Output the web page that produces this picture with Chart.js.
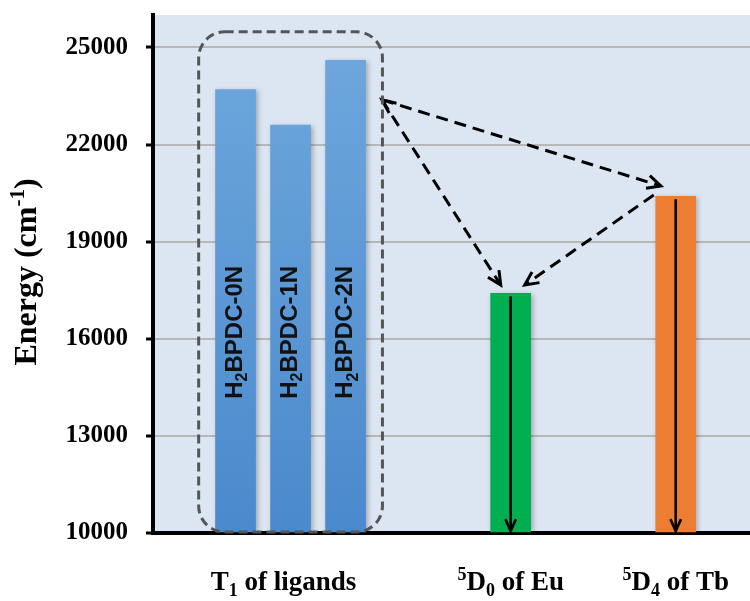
<!DOCTYPE html>
<html>
<head>
<meta charset="utf-8">
<script src="https://cdn.jsdelivr.net/npm/chart.js@4.4.1/dist/chart.umd.min.js"></script>
<style>
  html, body { margin: 0; padding: 0; background: #ffffff; }
  canvas { display: block; }
</style>
</head>
<body>
<canvas id="energyChart" width="750" height="601"></canvas>
<script>
// Triplet levels of the ligands and emitting levels of Eu3+ / Tb3+ (cm-1)
const ligandNames = ['H_{2}BPDC-0N', 'H_{2}BPDC-1N', 'H_{2}BPDC-2N'];
const ligandTriplets = [23700, 22600, 24600];
const lanthanideNames = ['Eu', 'Tb'];
const lanthanideLevels = [17400, 20400];
const groupLabels = ['T_{1} of ligands', '^{5}D_{0} of Eu', '^{5}D_{4} of Tb'];
const energyTicks = [10000, 13000, 16000, 19000, 22000, 25000];
const axisTitle = 'Energy (cm^{-1})';

// Layout along the hidden x axis (slot units) and value range
const ligandSlots = [0, 1, 2];
const lanthanideSlots = [5, 8];
const groupSlots = [0.87, 5, 8];
const yMin = 10000, yMax = 26000;
const xMin = -1.5, xMax = 9.35;

const SERIF = '"Liberation Serif", "Times New Roman", serif';
const SANS = '"Liberation Sans", Arial, sans-serif';
const lanthanideColors = ['#00b050', '#ed7d31'];

// Small rich-text helper: _{..} subscript, ^{..} superscript
function parseRich(str) {
  const segs = [];
  const re = /([_^])\{([^}]*)\}|([^_^]+)/g;
  let m;
  while ((m = re.exec(str))) {
    if (m[3] !== undefined) segs.push({ t: m[3], k: 0 });
    else segs.push({ t: m[2], k: m[1] === '_' ? 1 : -1 });
  }
  return segs;
}
function drawRich(ctx, str, x, y, size, family, weight, align) {
  const segs = parseRich(str);
  const small = Math.round(size * 0.65);
  const fontFor = k => `${weight} ${k ? small : size}px ${family}`;
  let total = 0;
  segs.forEach(s => { ctx.font = fontFor(s.k); s.w = ctx.measureText(s.t).width; total += s.w; });
  let cx = align === 'center' ? x - total / 2 : (align === 'right' ? x - total : x);
  ctx.textAlign = 'left';
  ctx.textBaseline = 'alphabetic';
  segs.forEach(s => {
    ctx.font = fontFor(s.k);
    const dy = s.k === 1 ? size * 0.22 : (s.k === -1 ? -size * 0.38 : 0);
    ctx.fillText(s.t, cx, y + dy);
    cx += s.w;
  });
}

function arrowHead(ctx, tx, ty, angle, len, spread) {
  ctx.save();
  ctx.setLineDash([]);
  ctx.beginPath();
  ctx.moveTo(tx - len * Math.cos(angle - spread), ty - len * Math.sin(angle - spread));
  ctx.lineTo(tx, ty);
  ctx.lineTo(tx - len * Math.cos(angle + spread), ty - len * Math.sin(angle + spread));
  ctx.stroke();
  ctx.restore();
}

// Plot-area background
const plotBackground = {
  id: 'plotBackground',
  beforeDraw(chart) {
    const { ctx, chartArea: a } = chart;
    ctx.save();
    ctx.fillStyle = '#dce6f2';
    ctx.fillRect(a.left, a.top, a.right - a.left, a.bottom - a.top);
    ctx.restore();
  }
};

// Soft drop shadow under the bars
const barShadow = {
  id: 'barShadow',
  beforeDatasetDraw(chart) {
    const ctx = chart.ctx;
    ctx.save();
    ctx.shadowColor = 'rgba(0,0,0,0.28)';
    ctx.shadowBlur = 5;
    ctx.shadowOffsetX = 2;
    ctx.shadowOffsetY = 1;
  },
  afterDatasetDraw(chart) {
    chart.ctx.restore();
  }
};

// Labels, energy-transfer arrows, ligand box, axis titles
const annotations = {
  id: 'annotations',
  afterDatasetsDraw(chart) {
    const { ctx, chartArea: a } = chart;
    const xs = chart.scales.x, ys = chart.scales.y;
    const px = v => xs.getPixelForValue(v);
    const py = v => ys.getPixelForValue(v);

    // rotated ligand names inside the blue bars
    ctx.save();
    ctx.fillStyle = '#111111';
    ligandNames.forEach((name, i) => {
      const size = 24;
      ctx.save();
      ctx.translate(px(ligandSlots[i]) - 2 + size * 0.36, py(16200));
      ctx.rotate(-Math.PI / 2);
      drawRich(ctx, name, 0, 0, size, SANS, 'bold', 'center');
      ctx.restore();
    });
    ctx.restore();

    // vertical decay arrows in the lanthanide bars
    ctx.save();
    ctx.strokeStyle = '#000';
    ctx.lineWidth = 2.6;
    lanthanideSlots.forEach((s, i) => {
      const x = px(s);
      const top = py(lanthanideLevels[i]) + 3;
      const tip = a.bottom - 2;
      ctx.beginPath();
      ctx.moveTo(x, top);
      ctx.lineTo(x, tip - 2);
      ctx.stroke();
      arrowHead(ctx, x, tip, Math.PI / 2, 13, 0.42);
    });
    ctx.restore();

    // dashed energy-transfer arrows
    const eu = lanthanideLevels[0], tb = lanthanideLevels[1];
    const euX = lanthanideSlots[0], tbX = lanthanideSlots[1];
    const hub = [px(2.66), py(23380)];
    const euLeft = [px(euX - 0.18), py(eu + 260)];
    const euRight = [px(euX + 0.255), py(eu + 260)];
    const tbTip = [px(tbX - 0.27), py(tb + 320)];
    const tbStart = [px(tbX - 0.4), py(tb + 40)];
    const lines = [[hub, euLeft], [hub, tbTip], [tbStart, euRight]];
    ctx.save();
    ctx.strokeStyle = '#000';
    ctx.lineWidth = 3;
    ctx.setLineDash([12, 7]);
    lines.forEach(([p, q]) => {
      ctx.beginPath();
      ctx.moveTo(p[0], p[1]);
      ctx.lineTo(q[0], q[1]);
      ctx.stroke();
    });
    lines.forEach(([p, q]) => {
      arrowHead(ctx, q[0], q[1], Math.atan2(q[1] - p[1], q[0] - p[0]), 15, 0.45);
    });
    // head at the ligand side, pointing back along the bisector
    const a1 = Math.atan2(hub[1] - euLeft[1], hub[0] - euLeft[0]);
    const a2 = Math.atan2(hub[1] - tbTip[1], hub[0] - tbTip[0]);
    const bis = Math.atan2(Math.sin(a1) + Math.sin(a2), Math.cos(a1) + Math.cos(a2));
    arrowHead(ctx, hub[0], hub[1], bis, 15, 0.42);
    ctx.restore();

    // rounded dashed box around the ligand bars
    ctx.save();
    const bl = px(-0.67), br = px(2.67), bt = py(25480), bb = a.bottom - 1;
    ctx.strokeStyle = '#555555';
    ctx.lineWidth = 3;
    ctx.setLineDash([9, 5]);
    ctx.beginPath();
    ctx.roundRect(bl, bt, br - bl, bb - bt, 26);
    ctx.stroke();
    ctx.restore();
  },
  afterDraw(chart) {
    const { ctx, chartArea: a } = chart;
    const xs = chart.scales.x;
    ctx.save();
    ctx.fillStyle = '#000';
    groupLabels.forEach((lab, i) => {
      drawRich(ctx, lab, xs.getPixelForValue(groupSlots[i]), a.bottom + 57, 27, SERIF, 'bold', 'center');
    });
    ctx.translate(36, (a.top + a.bottom) / 2 - 2);
    ctx.rotate(-Math.PI / 2);
    drawRich(ctx, axisTitle, 0, 0, 32, SERIF, 'bold', 'center');
    ctx.restore();
  }
};

const barPoints = ligandSlots.map((s, i) => ({ x: s, y: ligandTriplets[i] }))
  .concat(lanthanideSlots.map((s, i) => ({ x: s, y: lanthanideLevels[i] })));

new Chart(document.getElementById('energyChart'), {
  type: 'bar',
  data: {
    datasets: [{
      data: barPoints,
      base: yMin,
      barThickness: 40,
      borderWidth: 0,
      backgroundColor: c => {
        const i = c.dataIndex;
        if (i >= ligandSlots.length) return lanthanideColors[i - ligandSlots.length];
        const area = c.chart.chartArea;
        if (!area) return '#5b9bd5';
        const g = c.chart.ctx.createLinearGradient(0, area.top, 0, area.bottom);
        g.addColorStop(0, '#70a9de');
        g.addColorStop(1, '#4a89cc');
        return g;
      }
    }]
  },
  options: {
    responsive: false,
    devicePixelRatio: 1,
    animation: false,
    layout: { padding: { top: 15, right: 0, left: 0, bottom: 0 } },
    plugins: { legend: { display: false }, tooltip: { enabled: false } },
    scales: {
      x: {
        type: 'linear', min: xMin, max: xMax, z: 1, offset: false,
        afterFit: s => { s.height = 68; s.paddingLeft = 0; s.paddingRight = 0; },
        ticks: { display: false },
        grid: { display: false },
        border: { color: '#000', width: 4 }
      },
      y: {
        type: 'linear', min: yMin, max: yMax,
        afterBuildTicks: s => { s.ticks = energyTicks.map(v => ({ value: v })); },
        afterFit: s => { s.width = 153; s.paddingTop = 0; s.paddingBottom = 0; },
        ticks: {
          callback: v => String(v),
          color: '#000',
          padding: 18,
          font: { family: SERIF, size: 25, weight: 'bold' }
        },
        grid: { color: '#b7b7b7', lineWidth: 2, tickLength: 7, tickColor: '#000', tickWidth: 3 },
        border: { color: '#000', width: 4 }
      }
    }
  },
  plugins: [plotBackground, barShadow, annotations]
});
</script>
</body>
</html>
